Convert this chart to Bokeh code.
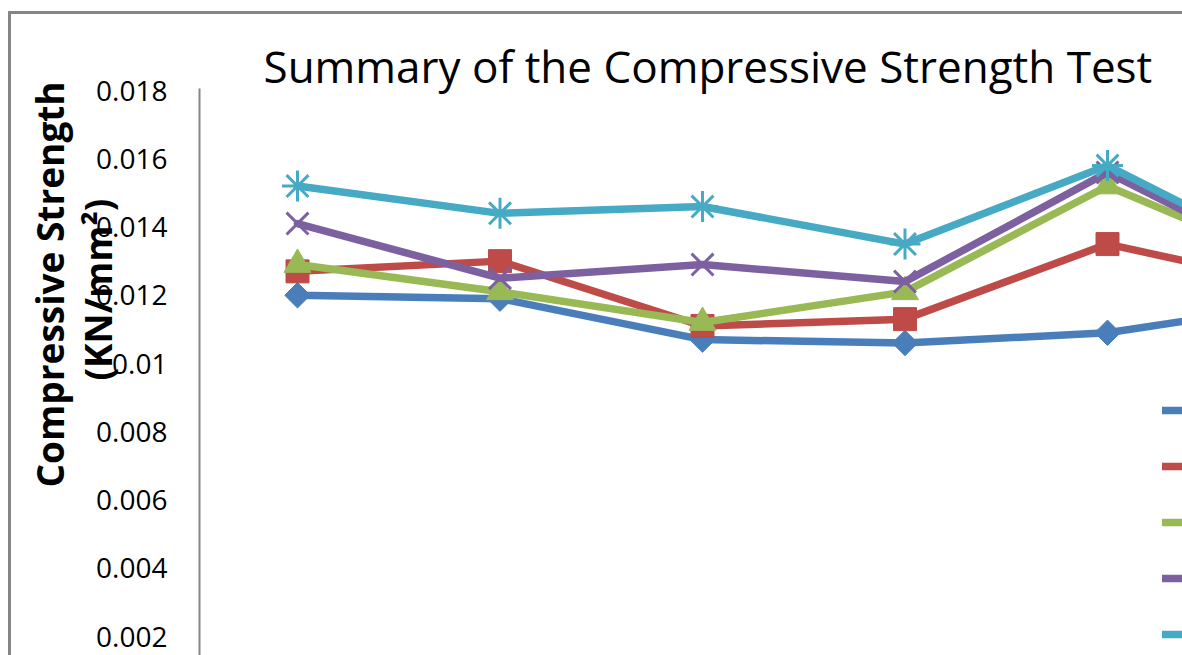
import math
from bokeh.plotting import figure
from bokeh.models import Legend, LegendItem, FixedTicker, Range1d, Title, InlineStyleSheet
from bokeh.core.properties import value
from bokeh.embed import file_html
from bokeh.resources import INLINE

# ---- data ----
category_pos = [1, 2, 3, 4, 5, 6]
s1 = [0.0120, 0.0119, 0.0107, 0.0106, 0.0109, 0.0118]
s2 = [0.0127, 0.0130, 0.0111, 0.0113, 0.0135, 0.0122]
s3 = [0.0129, 0.0121, 0.0112, 0.0121, 0.0152, 0.0127]
s4 = [0.0141, 0.0125, 0.0129, 0.0124, 0.0156, 0.0126]
s5 = [0.0152, 0.0144, 0.0146, 0.0135, 0.0158, 0.0128]
y_ticks = [0.002, 0.004, 0.006, 0.008, 0.01, 0.012, 0.014, 0.016, 0.018]
y_tick_labels = ["0.002", "0.004", "0.006", "0.008", "0.01", "0.012", "0.014", "0.016", "0.018"]
title_text = "Summary of the Compressive Strength Test"
ylabel_line1 = "Compressive Strength"
ylabel_line2 = "(KN/mm²)"

# ---- styling ----
colors = ["#4A7EBB", "#BE4B48", "#98B954", "#7D60A0", "#46AAC5"]
FONT = "Open Sans"

W, H = 1182, 655
FRAME_LEFT, FRAME_TOP = 199, 88
CAT_PX = 202.5
FIRST_CAT_PX = 297
PX_PER_UNIT = 34125.0

x_start = 1 - (FIRST_CAT_PX - FRAME_LEFT) / CAT_PX
x_end = 1 + (W - FIRST_CAT_PX) / CAT_PX
y_end = 0.018 + 2 / PX_PER_UNIT
y_start = y_end - (H - FRAME_TOP) / PX_PER_UNIT

p = figure(width=W, height=H, output_backend="svg", toolbar_location=None,
           x_range=Range1d(x_start, x_end), y_range=Range1d(y_start, y_end),
           x_axis_location=None, title=None,
           min_border_left=FRAME_LEFT, min_border_right=0,
           min_border_top=FRAME_TOP, min_border_bottom=0)
p.outline_line_color = None
p.xgrid.grid_line_color = None
p.ygrid.grid_line_color = None
p.background_fill_color = "white"
p.border_fill_color = "white"

# chart-area border (only its top and left edges are inside the window)
p.stylesheets = [InlineStyleSheet(css=(
    ":host { position: relative; }"
    ":host::after { content: ''; position: absolute; left: 8px; top: 11px; right: 0; bottom: 0;"
    " border-left: 3px solid #868686; border-top: 3px solid #868686; pointer-events: none; }"))]

ax = p.yaxis[0]
ax.ticker = FixedTicker(ticks=y_ticks)
ax.major_label_overrides = dict(zip(y_ticks, y_tick_labels))
ax.axis_line_color = "#868686"
ax.axis_line_width = 2
ax.major_tick_out = 0
ax.major_tick_in = 0
ax.minor_tick_out = 0
ax.minor_tick_in = 0
ax.major_label_standoff = 32
ax.major_label_text_font = FONT
ax.major_label_text_font_size = "28px"
ax.major_label_text_color = "black"

p.add_layout(Title(text=title_text, text_font=FONT, text_font_size="44px",
                   text_font_style="normal", text_color="black", align="left",
                   offset=263 - FRAME_LEFT, standoff=-15), "above")

# y-axis title, two rotated lines (second one overlaps the tick labels as in the original)
p.add_layout(Title(text=ylabel_line2, text_font=FONT, text_font_size="37px",
                   text_font_style="bold", text_color="black", align="left",
                   offset=H - 380, standoff=-58), "left")
p.add_layout(Title(text=ylabel_line1, text_font=FONT, text_font_size="37px",
                   text_font_style="bold", text_color="black", align="left",
                   offset=H - 487, standoff=38), "left")

series = [s1, s2, s3, s4, s5]
markers = [("square", 18, math.pi / 4, 1), ("square", 23, 0, 1), ("triangle", 27, 0, 1),
           ("x", 31, 0, 3), ("asterisk", 31, 0, 3)]
line_renderers = []
for vals, col, (mk, sz, ang, lw) in zip(series, colors, markers):
    r = p.line(category_pos, vals, line_color=col, line_width=7.5,
               line_join="round", line_cap="round")
    line_renderers.append(r)
    p.scatter(category_pos, vals, marker=mk, size=sz, angle=ang,
              fill_color=col, line_color=col, line_width=lw)

legend = Legend(items=[LegendItem(label=value(""), renderers=[r]) for r in line_renderers],
                location=(1162 - FRAME_LEFT, 6), orientation="vertical",
                glyph_width=40, glyph_height=30, label_height=30, label_width=0, spacing=26,
                padding=0, margin=0, border_line_color=None, background_fill_alpha=0,
                label_text_font=FONT, label_text_font_size="20px", label_standoff=0)
p.add_layout(legend, "center")

open("out.html", "w").write(file_html(p, INLINE))
